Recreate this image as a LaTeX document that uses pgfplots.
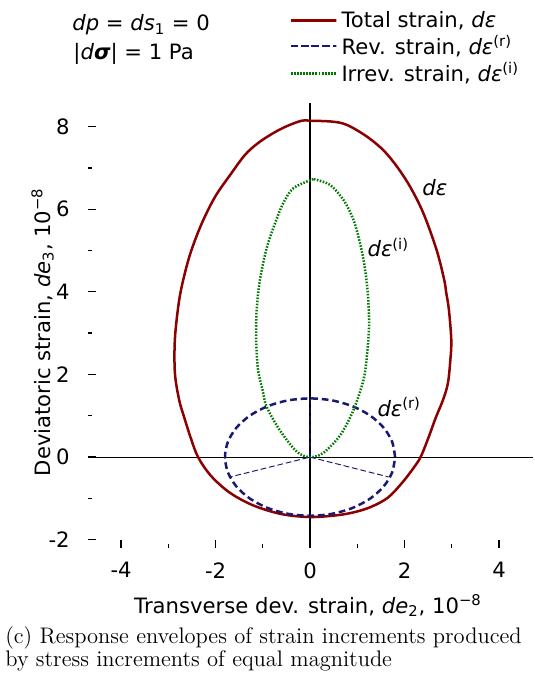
\documentclass[border=0pt]{standalone}
\usepackage{pgfplots}
\pgfplotsset{compat=1.18}
\usepackage{fontspec}
\newfontfamily\dejavu{DejaVu Sans}
\newcommand\cf{\dejavu\fontsize{11pt}{13pt}\selectfont}
\definecolor{cred}{RGB}{139,0,0}
\definecolor{cblue}{RGB}{25,25,112}
\definecolor{cgreen}{RGB}{0,120,0}
\begin{document}
\begin{tikzpicture}
\path[use as bounding box] (0,0) rectangle (277.68pt,-352.04pt);
\begin{axis}[
  scale only axis, width=231.4pt, height=231.4pt,
  at={(45.76pt,-284.96pt)}, anchor=south west,
  xmin=-4.7, xmax=4.72, ymin=-2.2, ymax=8.57,
  axis line style={draw=none},
  tick pos=left, tick align=inside,
  xtick={-4,-2,0,2,4}, minor xtick={-3,-1,1,3},
  ytick={-2,0,2,4,6,8}, minor ytick={-1,1,3,5,7},
  xticklabels={-4,-2,0,2,4}, yticklabels={-2,0,2,4,6,8},
  major tick length=4.2pt, minor tick length=2.1pt,
  every tick/.style={black, line width=0.7pt},
  tick label style={font=\cf},
  xticklabel style={yshift=-4pt},
  yticklabel style={xshift=-6pt},
  clip=false,
  legend style={draw=none, fill=none, font=\cf, at={(0.44,1.225)}, anchor=north west,
    row sep=-1.2pt},
  legend cell align=left,
  legend image code/.code={\draw[#1] (0pt,0pt) -- (19pt,0pt); \path (0pt,0pt) rectangle (23.5pt,0pt);},
]
\addplot[black, line width=0.6pt, forget plot] coordinates {(-4.7,0) (4.72,0)};
\addplot[black, line width=0.6pt, forget plot] coordinates {(0,-2.2) (0,8.57)};

\addplot[cred, line width=1.3pt, smooth, tension=0.55] coordinates {
(0,8.14) (-0.18,8.14) (-0.49,8.01) (-0.78,7.84) (-1.10,7.60) (-1.38,7.31)
(-1.69,6.83) (-2.01,6.30) (-2.29,5.66) (-2.51,5.01) (-2.65,4.45) (-2.77,3.80)
(-2.86,2.87) (-2.86,2.03) (-2.77,1.38) (-2.66,0.95) (-2.53,0.48) (-2.37,0) (-2.10,-0.45)
(-1.70,-0.86) (-1.20,-1.17) (-0.60,-1.38) (0,-1.45) (0.55,-1.41) (0.95,-1.33) (1.30,-1.20)
(1.65,-0.98) (1.95,-0.62) (2.18,-0.28) (2.34,0) (2.50,0.45) (2.66,0.95) (2.82,1.40)
(2.92,1.80) (2.97,2.35) (2.99,2.83)
(2.94,3.56) (2.88,4.00) (2.84,4.29) (2.68,5.01) (2.40,5.90) (2.12,6.54)
(1.84,7.03) (1.55,7.43) (1.20,7.76) (0.78,8.04) (0.46,8.12) (0,8.14)};
\addlegendentry{Total strain, \textit{dε}}

\addplot[cblue, line width=1.3pt, dash pattern=on 3.5pt off 2pt, smooth] coordinates {
(1.80,0) (1.739,0.368) (1.559,0.710) (1.273,1.004) (0.900,1.230) (0.466,1.372)
(0,1.420) (-0.466,1.372) (-0.900,1.230) (-1.273,1.004) (-1.559,0.710) (-1.739,0.368)
(-1.80,0) (-1.739,-0.368) (-1.559,-0.710) (-1.273,-1.004) (-0.900,-1.230) (-0.466,-1.372)
(0,-1.420) (0.466,-1.372) (0.900,-1.230) (1.273,-1.004) (1.559,-0.710) (1.739,-0.368) (1.80,0)};
\addlegendentry{Rev. strain, \textit{dε}\textsuperscript{(r)}}

\addplot[cgreen, line width=1.3pt, dash pattern=on 0.8pt off 0.8pt, smooth] coordinates {
(0.07,6.73) (-0.35,6.51) (-0.57,6.14) (-0.74,5.66) (-0.92,5.05) (-1.06,4.29)
(-1.13,3.56) (-1.14,2.83) (-1.10,2.11) (-1.00,1.60) (-0.92,1.22) (-0.64,0.65)
(-0.28,0.13) (0,0) (0.28,0.10) (0.64,0.53) (0.92,1.14) (1.13,1.86) (1.20,2.40)
(1.25,3.20) (1.22,4.00) (1.15,4.65) (1.06,5.17) (0.92,5.74) (0.71,6.22)
(0.42,6.59) (0.07,6.73)};
\addlegendentry{Irrev. strain, \textit{dε}\textsuperscript{(i)}}

\addplot[cblue, line width=0.5pt, dash pattern=on 3pt off 1.5pt, forget plot] coordinates {(0,1.42) (0,0) (-1.69,-0.48)};
\addplot[cblue, line width=0.5pt, dash pattern=on 3pt off 1.5pt, forget plot] coordinates {(0,0) (1.66,-0.48)};

\node[anchor=base west, inner sep=0, font=\cf] at (axis cs:2.37,6.34) {\textit{dε}};
\node[anchor=base west, inner sep=0, font=\cf] at (axis cs:1.21,4.85) {\textit{dε}\textsuperscript{(i)}};
\node[anchor=base west, inner sep=0, font=\cf] at (axis cs:1.42,0.99) {\textit{dε}\textsuperscript{(r)}};
\end{axis}
\begin{scope}[x=0.52pt, y=-0.52pt]
\node[anchor=base west, inner sep=0, font=\cf] at (72,31) {\textit{dp} = \textit{ds}\textsubscript{1} = 0};
\node[anchor=base west, inner sep=0, font=\cf] at (73,60) {|\textit{d}{\bfseries\itshape σ}| = 1 Pa};
\node[anchor=base, inner sep=0, font=\cf] at (308,613) {Transverse dev. strain, \textit{de}\textsubscript{2}, 10\textsuperscript{−8}};
\node[anchor=base, inner sep=0, rotate=90, font=\cf] at (50,332) {Deviatoric strain, \textit{de}\textsubscript{3}, 10\textsuperscript{−8}};
\node[anchor=base west, inner sep=0, font=\fontsize{11.7pt}{14pt}\selectfont] at (5,643) {(c) Response envelopes of strain increments produced};
\node[anchor=base west, inner sep=0, font=\fontsize{11.7pt}{14pt}\selectfont] at (5,666) {by stress increments of equal magnitude};
\end{scope}
\end{tikzpicture}
\end{document}
